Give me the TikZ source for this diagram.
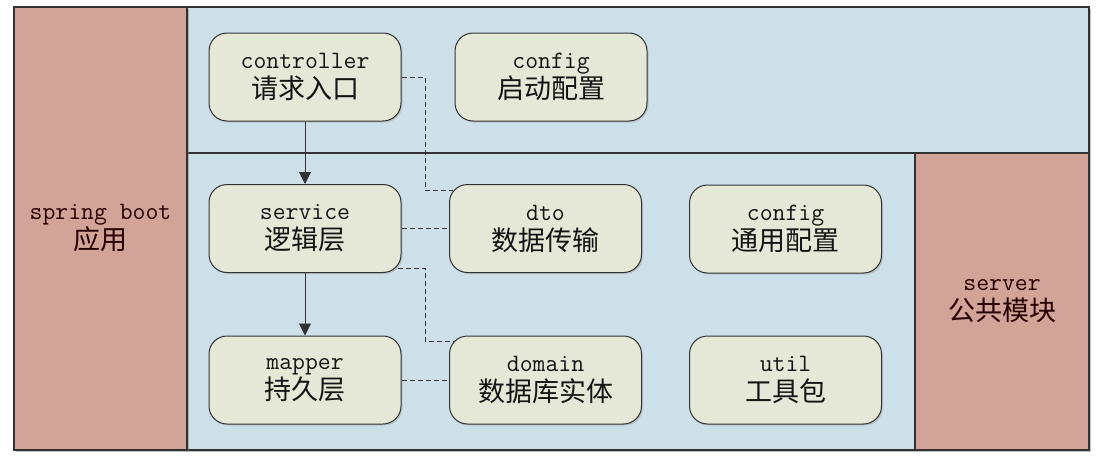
\documentclass[tikz,border=0pt]{standalone}
\usepackage{fontspec}
\newfontfamily\cjk{Noto Sans CJK SC}
\newfontfamily\mono{Latin Modern Mono}
\usetikzlibrary{arrows.meta,shadows}
\definecolor{panelblue}{RGB}{205,224,234}
\definecolor{panelpink}{RGB}{210,163,151}
\definecolor{boxfill}{RGB}{229,232,214}
\definecolor{edge}{RGB}{50,50,50}
\newcommand\twoline[2]{{\mono #1}\\{\fontsize{27}{30}\selectfont\cjk #2}}
\begin{document}
\begin{tikzpicture}[x=1pt,y=-1pt,
    panel/.style={draw=edge,line width=1.3pt,
      drop shadow={opacity=0.5,shadow xshift=2pt,shadow yshift=-2pt}},
    module/.style={panel,fill=panelpink,text=black!85!red,align=center,
      inner sep=0pt,font=\fontsize{25}{30}\selectfont},
    pkg/.style={draw=edge,line width=1pt,fill=boxfill,rounded corners=18pt,
      minimum width=192pt,minimum height=88pt,inner sep=0pt,align=center,
      text=black!92,font=\fontsize{25}{30}\selectfont,
      drop shadow={opacity=0.3,shadow xshift=1.5pt,shadow yshift=-1.5pt}},
    call/.style={draw=edge,line width=0.9pt,-{Triangle[length=12pt,width=12pt]}},
    uses/.style={draw=edge,line width=0.8pt,dash pattern=on 5pt off 3pt}]
      \useasboundingbox (0,0) rectangle (1103,463);
      \fill[white] (0,0) rectangle (1103,463);
      \draw[panel,fill=panelblue] (187,7) rectangle (1089,153);
      \draw[panel,fill=panelblue] (187,153) rectangle (915,450);
      \node[module,minimum width=173pt,minimum height=443pt] (boot) at (100.5,228.5) {\twoline{spring boot}{应用}};
      \node[module,minimum width=174pt,minimum height=297pt] (server) at (1002,301.5) {\twoline{server}{公共模块}};
      \node[pkg] (ctl) at (305,77) {\twoline{controller}{请求入口}};
      \node[pkg] (appcfg) at (551,77) {\twoline{config}{启动配置}};
      \node[pkg] (svc) at (305,228.5) {\twoline{service}{逻辑层}};
      \node[pkg] (dto) at (545.5,228.5) {\twoline{dto}{数据传输}};
      \node[pkg] (map) at (305,380) {\twoline{mapper}{持久层}};
      \node[pkg] (dom) at (545.5,380) {\twoline{domain}{数据库实体}};
      \node[pkg] (cfg) at (785.5,229) {\twoline{config}{通用配置}};
      \node[pkg] (util) at (785.5,380) {\twoline{util}{工具包}};
      \coordinate (dtobus) at (425,190);
      \coordinate (dombus) at (425,341);
      \begin{scope}
        \draw[call] (ctl) to (svc);
        \draw[call] (svc) to (map);
        \draw[uses] (ctl.east) -| (dtobus) -- ([xshift=4pt]dtobus -| dto.west);
        \draw[uses] (svc.east) to (dto.west);
        \draw[uses] ([xshift=-4pt,yshift=5pt]svc.south east) -| (dombus) -- ([xshift=4pt]dombus -| dom.west);
        \draw[uses] (map.east) to (dom.west);
      \end{scope}
    \end{tikzpicture}
\end{document}
